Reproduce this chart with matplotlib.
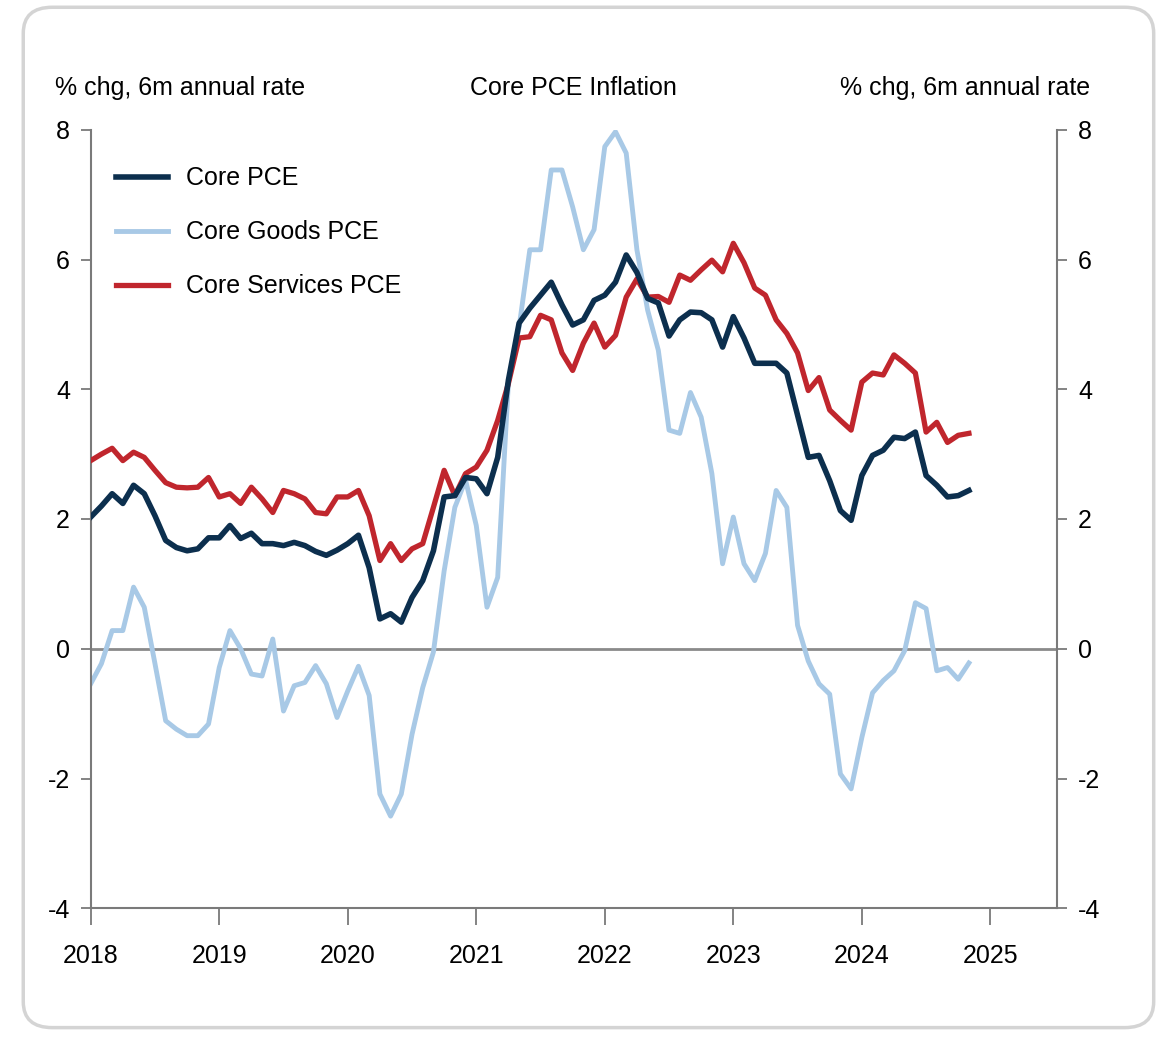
import numpy as np
import matplotlib.pyplot as plt
from matplotlib.patches import FancyBboxPatch

# monthly readings, Jan 2018 .. Nov 2024
core_pce = [2.03, 2.20, 2.39, 2.24, 2.52, 2.39, 2.05, 1.67, 1.56, 1.51, 1.54, 1.71,
            1.71, 1.90, 1.70, 1.78, 1.62, 1.62, 1.59, 1.64, 1.59, 1.50, 1.44, 1.52,
            1.62, 1.75, 1.25, 0.46, 0.54, 0.41, 0.79, 1.05, 1.51, 2.34, 2.36, 2.64,
            2.62, 2.39, 2.95, 4.14, 5.02, 5.25, 5.45, 5.65, 5.30, 4.99, 5.07, 5.37,
            5.45, 5.65, 6.07, 5.80, 5.40, 5.33, 4.82, 5.07, 5.19, 5.18, 5.07, 4.65,
            5.12, 4.79, 4.40, 4.40, 4.40, 4.25, 3.60, 2.95, 2.98, 2.59, 2.13, 1.98,
            2.67, 2.98, 3.06, 3.26, 3.24, 3.34, 2.67, 2.52, 2.34, 2.36, 2.44]
core_goods = [-0.54, -0.23, 0.28, 0.28, 0.95, 0.64, -0.23, -1.11, -1.24, -1.34, -1.34, -1.16,
              -0.29, 0.28, 0.00, -0.39, -0.42, 0.15, -0.96, -0.57, -0.52, -0.26, -0.54, -1.06,
              -0.65, -0.27, -0.72, -2.24, -2.58, -2.24, -1.32, -0.60, -0.05, 1.20, 2.18, 2.60,
              1.90, 0.64, 1.10, 4.10, 4.96, 6.15, 6.15, 7.38, 7.38, 6.81, 6.15, 6.46,
              7.74, 7.97, 7.64, 6.15, 5.22, 4.60, 3.37, 3.32, 3.95, 3.57, 2.70, 1.31,
              2.03, 1.31, 1.05, 1.47, 2.44, 2.18, 0.36, -0.19, -0.54, -0.70, -1.93, -2.16,
              -1.37, -0.68, -0.49, -0.34, -0.03, 0.71, 0.62, -0.34, -0.29, -0.47, -0.22]
core_services = [2.90, 3.00, 3.09, 2.90, 3.03, 2.95, 2.75, 2.56, 2.49, 2.48, 2.49, 2.64,
                 2.34, 2.39, 2.24, 2.49, 2.31, 2.10, 2.44, 2.39, 2.31, 2.10, 2.08, 2.34,
                 2.34, 2.44, 2.05, 1.36, 1.62, 1.36, 1.54, 1.62, 2.18, 2.75, 2.36, 2.70,
                 2.80, 3.06, 3.52, 4.09, 4.79, 4.81, 5.14, 5.07, 4.56, 4.29, 4.71, 5.02,
                 4.65, 4.83, 5.42, 5.70, 5.42, 5.43, 5.34, 5.76, 5.68, 5.84, 5.99, 5.81,
                 6.25, 5.95, 5.56, 5.45, 5.07, 4.86, 4.56, 3.98, 4.18, 3.68, 3.52, 3.37,
                 4.11, 4.25, 4.22, 4.53, 4.40, 4.25, 3.34, 3.49, 3.18, 3.29, 3.32]
years = [2018, 2019, 2020, 2021, 2022, 2023, 2024, 2025]
y_ticks = [-4, -2, 0, 2, 4, 6, 8]

t = 2018 + np.arange(len(core_pce)) / 12.0

plt.rcParams['font.family'] = ['Liberation Sans', 'DejaVu Sans']
plt.rcParams['font.size'] = 18
plt.rcParams['axes.unicode_minus'] = False

fig = plt.figure(figsize=(11.63, 10.38), dpi=100)

# card background (behind the axes)
card = FancyBboxPatch((0.02, 0.01), 0.972, 0.983, boxstyle="round,pad=0,rounding_size=0.025",
                      transform=fig.transFigure, facecolor='white', edgecolor='#d4d4d4',
                      linewidth=2.5, zorder=-5)
fig.patches.append(card)

ax = fig.add_axes([0.078, 0.125, 0.831, 0.75])
ax.patch.set_alpha(0)

ax.axhline(0, color='#8a8a8a', lw=2, zorder=1)
ax.plot(t, core_goods, color='#a8c9e6', lw=3.5, label='Core Goods PCE', zorder=2)
ax.plot(t, core_services, color='#c0262d', lw=3.8, label='Core Services PCE', zorder=3)
ax.plot(t, core_pce, color='#0c2f4e', lw=4.0, label='Core PCE', zorder=4)

ax.set_xlim(2018, 2025.52)
ax.set_ylim(-4, 8)
ax.set_xticks(years)
ax.set_xticklabels([str(y) for y in years])
ax.set_yticks(y_ticks)

ax.spines['top'].set_visible(False)
ax.spines['right'].set_visible(False)
for s in ['left', 'bottom']:
    ax.spines[s].set_color('#7a7a7a')
    ax.spines[s].set_linewidth(1.5)

ax.tick_params(axis='y', direction='out', length=7, width=1.3, color='#7a7a7a', pad=8)
ax.tick_params(axis='x', direction='out', length=12, width=1.3, color='#7a7a7a', pad=14)

ax2 = ax.twinx()
ax2.set_ylim(-4, 8)
ax2.set_yticks(y_ticks)
ax2.spines['top'].set_visible(False)
ax2.spines['left'].set_visible(False)
ax2.spines['bottom'].set_visible(False)
ax2.spines['right'].set_color('#7a7a7a')
ax2.spines['right'].set_linewidth(1.5)
ax2.tick_params(axis='y', direction='out', length=7, width=1.3, color='#7a7a7a', pad=8)

h, l = ax.get_legend_handles_labels()
order = [l.index('Core PCE'), l.index('Core Goods PCE'), l.index('Core Services PCE')]
ax.legend([h[i] for i in order], [l[i] for i in order], loc='upper left',
          bbox_to_anchor=(0.0, 0.985), frameon=False, handlelength=2.1,
          handletextpad=0.7, labelspacing=1.2, borderaxespad=0.6)

fig.text(0.047, 0.908, '% chg, 6m annual rate', ha='left', va='baseline')
fig.text(0.937, 0.908, '% chg, 6m annual rate', ha='right', va='baseline')
fig.text(0.493, 0.908, 'Core PCE Inflation', ha='center', va='baseline')

fig.savefig('out.png', dpi=100)
